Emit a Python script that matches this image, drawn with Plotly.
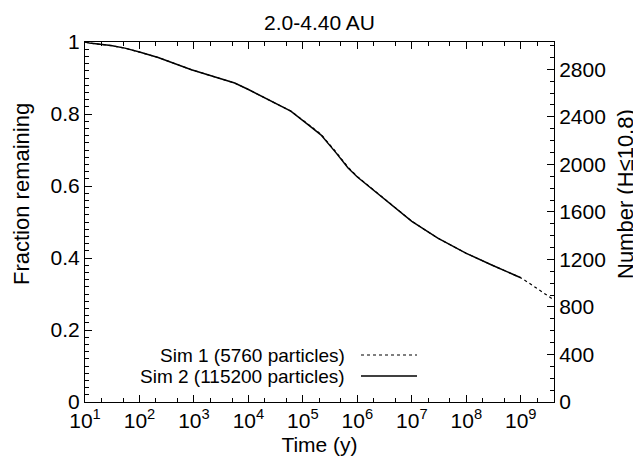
import plotly.graph_objects as go

# ---- data ----
time_sim2 = [10, 12, 30, 54, 100, 220, 900, 2000, 5600, 1.0e4, 2.5e4, 5.4e4, 6.0e4,
             1.26e5, 2.14e5, 4.07e5, 6.76e5, 1.0e6, 1.78e6, 5.6e6, 1.0e7, 3.0e7,
             1.0e8, 3.0e8, 1.0e9]
frac_sim2 = [1.000, 0.997, 0.990, 0.983, 0.972, 0.957, 0.923, 0.907, 0.886, 0.868, 0.838,
             0.812, 0.808, 0.770, 0.742, 0.692, 0.650, 0.625, 0.594, 0.534, 0.502, 0.455,
             0.413, 0.380, 0.345]

time_sim1 = [10, 12, 30, 54, 100, 220, 900, 2000, 5600, 1.0e4, 2.5e4, 5.4e4, 6.0e4,
             1.26e5, 2.14e5, 4.07e5, 6.76e5, 1.0e6, 1.78e6, 5.6e6, 1.0e7, 3.0e7,
             1.0e8, 3.0e8, 1.0e9, 1.4e9, 4.1e9]
frac_sim1 = [1.000, 0.997, 0.990, 0.983, 0.972, 0.957, 0.923, 0.907, 0.886, 0.868, 0.838,
             0.812, 0.808, 0.771, 0.744, 0.694, 0.652, 0.626, 0.595, 0.535, 0.502, 0.455,
             0.413, 0.380, 0.345, 0.331, 0.283]

n_total = 3030          # number corresponding to fraction 1 (right axis)
legend_names = ["Sim 1 (5760 particles)", "Sim 2 (115200 particles)"]
title_text = "2.0-4.40 AU"
x_title = "Time (y)"
y_title = "Fraction remaining"
y2_title = "Number (H≤10.8)"
x_tickvals = [1e1, 1e2, 1e3, 1e4, 1e5, 1e6, 1e7, 1e8, 1e9]
x_ticktext = ["10<sup>%d</sup>" % k for k in range(1, 10)]
y2_ticks = [0, 400, 800, 1200, 1600, 2000, 2400, 2800]

FONT = "Liberation Sans, Arial, sans-serif"
FS = 21
FS_KEY = 19
FS_YT = 22

fig = go.Figure()
fig.add_trace(go.Scatter(x=time_sim1, y=frac_sim1, mode="lines", name=legend_names[0],
                         line=dict(color="black", width=1.2, dash="dot"), showlegend=False))
fig.add_trace(go.Scatter(x=time_sim2, y=frac_sim2, mode="lines", name=legend_names[1],
                         line=dict(color="black", width=1.5), showlegend=False))
# right axis (number) carrier trace, invisible
fig.add_trace(go.Scatter(x=time_sim2, y=[f * n_total for f in frac_sim2], yaxis="y2",
                         mode="lines", line=dict(width=0, color="rgba(0,0,0,0)"),
                         hoverinfo="skip", showlegend=False))

L, R, T, B = 77, 95, 34, 68
W, H = 641, 462
pw, ph = W - L - R, H - T - B

def px_to_paper_x(px):
    return (px - L) / pw

def px_to_paper_y(py):
    return (H - B - py) / ph

# gnuplot-style key: right-aligned text, sample to the right
key_rows = [(legend_names[0], 347, "dot"), (legend_names[1], 368, "solid")]
for name, py, dash in key_rows:
    fig.add_annotation(text=name, x=px_to_paper_x(339), y=px_to_paper_y(py), xref="paper",
                       yref="paper", xanchor="right", yanchor="middle", showarrow=False,
                       font=dict(family=FONT, size=FS_KEY, color="black"))
    fig.add_shape(type="line", xref="paper", yref="paper", x0=px_to_paper_x(353),
                  x1=px_to_paper_x(409), y0=px_to_paper_y(py), y1=px_to_paper_y(py),
                  line=dict(color="black", width=1.2 if dash == "dot" else 1.5, dash=dash))

# y-axis titles (gnuplot places them slightly above the centre)
for txt, px in ((y_title, 13), (y2_title, 617)):
    fig.add_annotation(text=txt, x=px_to_paper_x(px), y=px_to_paper_y(186), xref="paper",
                       yref="paper", xanchor="center", yanchor="middle", textangle=-90,
                       showarrow=False, font=dict(family=FONT, size=FS_YT, color="black"))

axis_common = dict(showline=True, linecolor="black", linewidth=1, ticks="inside",
                   tickcolor="black", showgrid=False, zeroline=False,
                   tickfont=dict(family=FONT, size=FS, color="black"))

fig.update_layout(
    width=W, height=H,
    margin=dict(l=L, r=R, t=T, b=B),
    paper_bgcolor="white", plot_bgcolor="white",
    font=dict(family=FONT, size=FS, color="black"),
    title=dict(text=title_text, x=(L + pw / 2) / W, xanchor="center", y=1 - 15 / H,
               yanchor="middle", font=dict(family=FONT, size=21, color="black")),
    xaxis=dict(type="log", range=[1, 9.61], tickvals=x_tickvals, ticktext=x_ticktext,
               ticklen=7, mirror="ticks",
               minor=dict(ticks="inside", ticklen=4, tickcolor="black", showgrid=False),
               title=dict(text=x_title, standoff=6,
                          font=dict(family=FONT, size=FS, color="black")),
               **axis_common),
    yaxis=dict(range=[0, 1], dtick=0.2, ticklen=7,
               minor=dict(ticks="inside", ticklen=4, dtick=0.02, tickcolor="black",
                          showgrid=False),
               **axis_common),
    yaxis2=dict(range=[0, n_total], tickvals=y2_ticks, overlaying="y", side="right",
                ticklen=7,
                minor=dict(ticks="inside", ticklen=4, dtick=100, tickcolor="black",
                           showgrid=False),
                **axis_common),
)

fig.write_html("out.html")
